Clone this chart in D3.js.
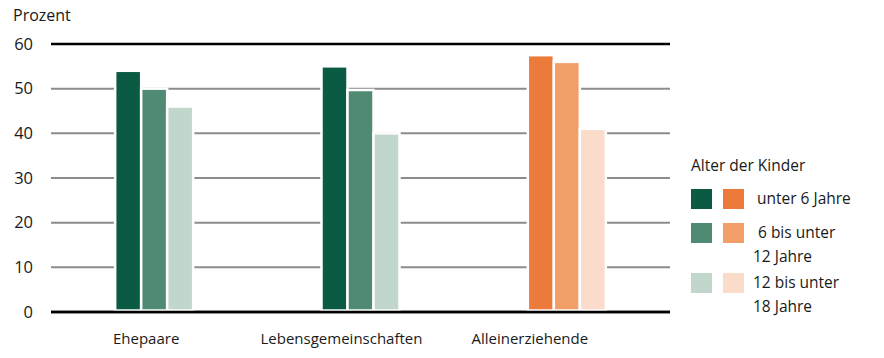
<!DOCTYPE html>
<html><head><meta charset="utf-8">
<script src="https://cdn.jsdelivr.net/npm/d3@7"></script>
<style>body{margin:0;background:#fff}text{font-family:"Open Sans",sans-serif;fill:#1a1a1a}</style>
</head><body><svg id="c" width="884" height="358"></svg>
<script>
const categories = ["Ehepaare", "Lebensgemeinschaften", "Alleinerziehende"];
const ageGroups = ["unter 6 Jahre", "6 bis unter 12 Jahre", "12 bis unter 18 Jahre"];
const under6 = [54, 55, 57.5];
const from6to12 = [50, 49.7, 56];
const from12to18 = [46, 40, 41];
const yTicks = [0, 10, 20, 30, 40, 50, 60];
const greens = ["#0b5a43", "#4f8a72", "#c2d7cc"];
const oranges = ["#ec7a3b", "#f29e69", "#fbdccb"];
const legendLines = [["unter 6 Jahre"], ["6 bis unter", "12 Jahre"], ["12 bis unter", "18 Jahre"]];

const series = [under6, from6to12, from12to18];
const svg = d3.select("#c");
const x0 = d3.scaleBand().domain(categories).range([51, 670]).padding(0);
const barW = 26;
const x1 = d3.scaleBand().domain(ageGroups).range([-barW*1.5, barW*1.5]).padding(0);
const y = d3.scaleLinear().domain([0, 60]).range([312, 44]);
const labelShift = [-8, -19, -37];

// gridlines
svg.append("g").selectAll("line").data(yTicks).join("line")
  .attr("x1", 51).attr("x2", 670)
  .attr("y1", d => y(d)).attr("y2", d => y(d))
  .attr("stroke", d => (d === 0 || d === 60) ? "#000" : "#8c8c8c")
  .attr("stroke-width", d => (d === 0 || d === 60) ? 2.5 : 2);

// y labels
svg.append("g").selectAll("text").data(yTicks).join("text")
  .attr("x", 33).attr("y", d => y(d)).attr("dy", "0.35em")
  .attr("text-anchor", "end").style("font-size", "16.5px").text(d => d);

svg.append("text").attr("x", 13).attr("y", 21).style("font-size", "16px").text("Prozent");

// bars
const data = [];
categories.forEach((c, i) => ageGroups.forEach((a, j) => {
  data.push({c, a, j, v: series[j][i], color: (i === 2 ? oranges : greens)[j]});
}));
svg.append("g").selectAll("rect").data(data).join("rect")
  .attr("x", d => x0(d.c) + x0.bandwidth()/2 + x1(d.a))
  .attr("width", x1.bandwidth())
  .attr("y", d => y(d.v))
  .attr("height", d => y(0) - y(d.v) - 1.5)
  .attr("fill", d => d.color)
  .attr("stroke", "#fff").attr("stroke-width", 2.5);

// redraw baseline on top
svg.append("line").attr("x1", 51).attr("x2", 670).attr("y1", y(0)).attr("y2", y(0))
  .attr("stroke", "#000").attr("stroke-width", 2.5);

// category labels
svg.append("g").selectAll("text").data(categories).join("text")
  .attr("x", (d, i) => x0(d) + x0.bandwidth()/2 + labelShift[i]).attr("y", 344)
  .attr("text-anchor", "middle").style("font-size", "15px").text(d => d);

// legend
const lg = svg.append("g");
lg.append("text").attr("x", 691).attr("y", 171).style("font-size", "15.5px").text("Alter der Kinder");
const rowY = [189, 223, 273];
const textX = [757, 758, 753];
ageGroups.forEach((a, j) => {
  lg.append("rect").attr("x", 691).attr("y", rowY[j]).attr("width", 21).attr("height", 20).attr("fill", greens[j]);
  lg.append("rect").attr("x", 723).attr("y", rowY[j]).attr("width", 21).attr("height", 20).attr("fill", oranges[j]);
  const t = lg.append("text").attr("x", textX[j]).attr("y", rowY[j] + 15).style("font-size", "15.5px");
  legendLines[j].forEach((l, k) => {
    t.append("tspan").attr("x", k === 0 ? textX[j] : 753)
      .attr("dy", k === 0 ? 0 : 24).text(l);
  });
});
</script></body></html>
